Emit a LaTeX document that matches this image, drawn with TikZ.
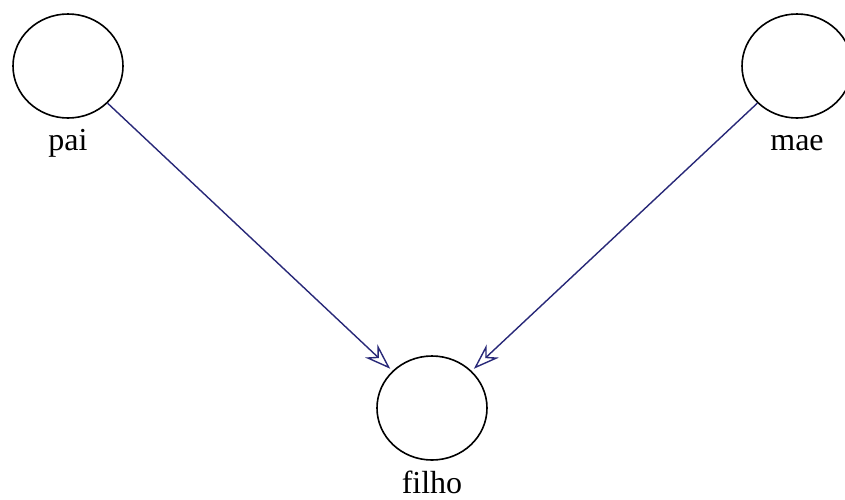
\documentclass[tikz,border=0pt]{standalone}
\usepackage{fontspec}
\setmainfont{Liberation Serif}
\usetikzlibrary{shapes.geometric,arrows.meta}
\begin{document}
\begin{tikzpicture}[x=1pt,y=-1pt,
  var/.style={draw=black,line width=1.6pt,ellipse,minimum width=110pt,minimum height=104pt,inner sep=0pt},
  lbl/.style={font=\fontsize{32}{32}\selectfont,inner sep=0pt,anchor=base},
  edge/.style={draw={rgb,255:red,40;green,40;blue,120},line width=1.4pt,shorten >=3pt,-{Stealth[open,length=26pt,width=18pt,line width=1.4pt]}}]
\useasboundingbox[fill=white] (0,0) rectangle (845,499);
\node[var] (pai) at (68,66) {};
\node[var] (mae) at (797,66) {};
\node[var] (filho) at (432,408) {};
\node[lbl] (tpai) at (68,150) {pai};
\node[lbl] (tmae) at (797,150) {mae};
\node[lbl] (tfilho) at (432,493) {filho};
\draw[edge] (pai) -- (filho);
\draw[edge] (mae) -- (filho);
\end{tikzpicture}
\end{document}
